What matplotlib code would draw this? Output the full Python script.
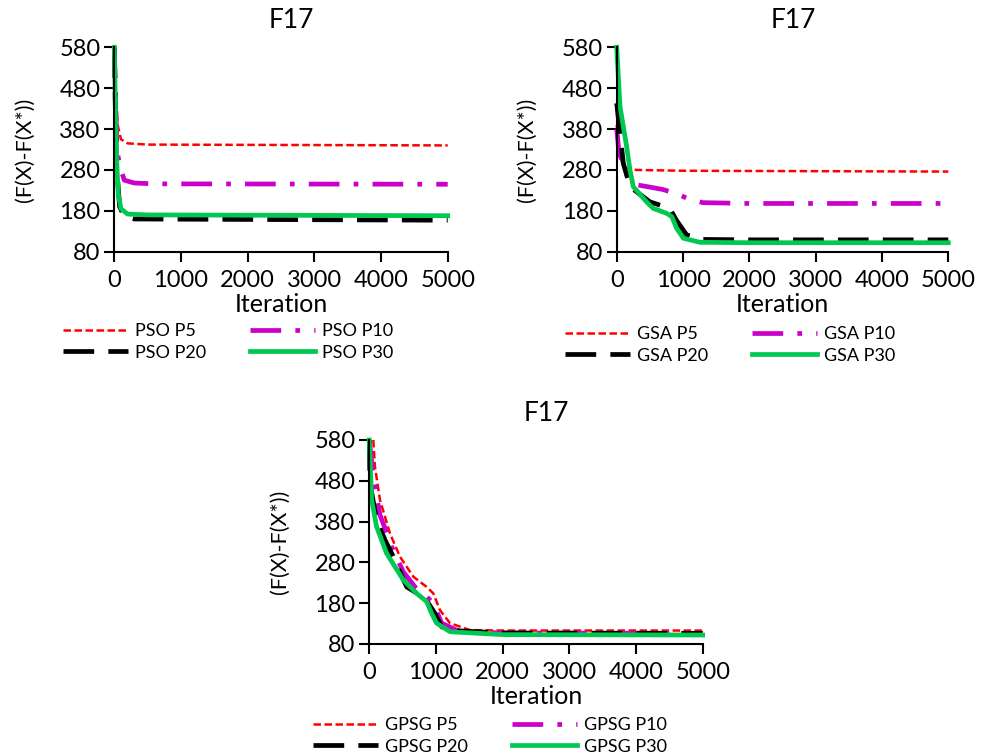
import matplotlib
matplotlib.use("Agg")
import matplotlib.pyplot as plt

plt.rcParams['font.family'] = ['Lato', 'DejaVu Sans']

# ---- data ----
pso_p5_x = [0, 20, 50, 100, 200, 500, 5000]
pso_p5_y = [580, 470, 390, 355, 345, 342, 340]
pso_p10_x = [0, 40, 80, 150, 300, 600, 5000]
pso_p10_y = [580, 330, 290, 255, 248, 246, 245]
pso_p20_x = [0, 30, 80, 150, 300, 5000]
pso_p20_y = [580, 300, 190, 165, 160, 157]
pso_p30_x = [0, 30, 60, 100, 200, 500, 5000]
pso_p30_y = [580, 320, 220, 185, 172, 170, 168]

gsa_p5_x = [0, 50, 100, 300, 1000, 5000]
gsa_p5_y = [390, 320, 285, 280, 278, 276]
gsa_p10_x = [0, 30, 80, 150, 250, 500, 700, 900, 1100, 1300, 2000, 5000]
gsa_p10_y = [380, 330, 300, 270, 245, 238, 232, 222, 208, 200, 198, 198]
gsa_p20_x = [0, 100, 200, 500, 800, 900, 1055, 1306, 2000, 5000]
gsa_p20_y = [443, 296, 239, 202, 186, 157, 121, 110, 109, 109]
gsa_p30_x = [0, 50, 150, 200, 250, 450, 550, 750, 830, 905, 1005, 1255, 2000, 5000]
gsa_p30_y = [580, 435, 337, 280, 239, 202, 186, 174, 166, 137, 113, 103, 102, 102]

gpsg_p5_x = [60, 85, 160, 310, 460, 660, 860, 960, 1060, 1210, 1510, 2000, 5000]
gpsg_p5_y = [580, 514, 433, 351, 294, 245, 220, 204, 163, 131, 114, 113, 113]
gpsg_p10_x = [0, 60, 160, 235, 335, 510, 685, 835, 960, 1085, 1360, 2000, 5000]
gpsg_p10_y = [580, 490, 396, 364, 318, 257, 220, 200, 180, 131, 110, 107, 106]
gpsg_p20_x = [0, 10, 110, 235, 360, 560, 760, 885, 985, 1085, 1360, 2000, 5000]
gpsg_p20_y = [580, 474, 384, 335, 294, 220, 200, 180, 155, 122, 112, 107, 106]
gpsg_p30_x = [0, 35, 110, 260, 510, 710, 860, 935, 1010, 1210, 2000, 5000]
gpsg_p30_y = [580, 433, 367, 302, 237, 204, 184, 155, 131, 110, 103, 102]

styles = [
    dict(color='#ff0000', lw=1.8, dashes=(3, 1.4)),
    dict(color='#cc00cc', lw=3.4, dashes=(6.5, 3, 1, 3)),
    dict(color='#000000', lw=3.4, dashes=(6.5, 3)),
    dict(color='#00c850', lw=3.4),
]

W, H = 986, 755
fig = plt.figure(figsize=(W / 100, H / 100), dpi=100)


def draw_panel(rect, series, prefix, leg_anchor, title_x, ylab_x):
    ax = fig.add_axes(rect)
    names = ['P5', 'P10', 'P20', 'P30']
    handles = []
    for (x, y), st, nm in zip(series, styles, names):
        kw = dict(st)
        dashes = kw.pop('dashes', None)
        line, = ax.plot(x, y, label=prefix + ' ' + nm, clip_on=False, **kw)
        if dashes:
            line.set_dashes(dashes)
        handles.append(line)
    ax.set_xlim(0, 5000)
    ax.set_ylim(80, 580)
    ax.set_xticks(range(0, 5001, 1000))
    ax.set_yticks(range(80, 581, 100))
    for s in ['top', 'right']:
        ax.spines[s].set_visible(False)
    for s in ['left', 'bottom']:
        ax.spines[s].set_linewidth(1.5)
    ax.tick_params(axis='both', labelsize=17, width=1.5, length=7, direction='out', pad=3)
    ax.tick_params(axis='x', pad=6)
    ax.set_xlabel('Iteration', fontsize=18, labelpad=1.5)
    fig.text(ylab_x, rect[1] + rect[3] / 2, '(F(X)-F(X*))', rotation=90,
             fontsize=15.5, ha='center', va='center')
    fig.text(title_x, rect[1] + rect[3] + 0.035, 'F17', fontsize=19, ha='center', va='center')
    # reorder so rows are (P5, P10) and (P20, P30) with ncol=2
    order = [0, 2, 1, 3]
    fig.legend([handles[i] for i in order], [handles[i].get_label() for i in order],
               ncol=2, loc='upper left', bbox_to_anchor=leg_anchor, frameon=False,
               fontsize=13, handlelength=3.6, handletextpad=0.4, columnspacing=2.4,
               labelspacing=0.3, borderaxespad=0)
    return ax


draw_panel([114.3 / W, 1 - 251.7 / H, 333.4 / W, 204.4 / H],
           [(pso_p5_x, pso_p5_y), (pso_p10_x, pso_p10_y), (pso_p20_x, pso_p20_y), (pso_p30_x, pso_p30_y)],
           'PSO', (56 / W, 1 - 316 / H), 291 / W, 25 / W)

draw_panel([616.7 / W, 1 - 251.7 / H, 331.6 / W, 204.4 / H],
           [(gsa_p5_x, gsa_p5_y), (gsa_p10_x, gsa_p10_y), (gsa_p20_x, gsa_p20_y), (gsa_p30_x, gsa_p30_y)],
           'GSA', (558 / W, 1 - 319 / H), 793 / W, 527 / W)

draw_panel([369.3 / W, 1 - 644 / H, 333.4 / W, 204 / H],
           [(gpsg_p5_x, gpsg_p5_y), (gpsg_p10_x, gpsg_p10_y), (gpsg_p20_x, gpsg_p20_y), (gpsg_p30_x, gpsg_p30_y)],
           'GPSG', (306 / W, 1 - 710 / H), 546 / W, 280 / W)

fig.savefig('out.png', dpi=100)
